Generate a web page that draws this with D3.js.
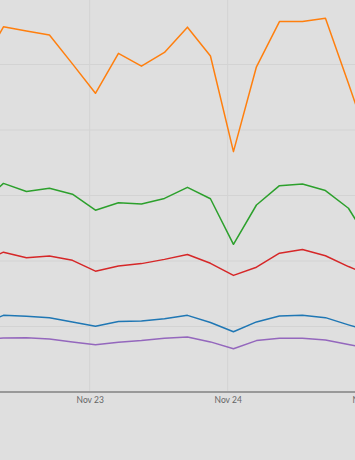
<!DOCTYPE html>
<html>
<head>
<meta charset="utf-8">
<script src="https://cdn.jsdelivr.net/npm/d3@7"></script>
<style>
html,body{margin:0;padding:0;background:#dfdfdf;overflow:hidden;}
svg{display:block;}
</style>
</head>
<body>
<svg id="chart" width="355" height="460"></svg>
<script>
// 4-hourly timestamps (Nov 22 05:00 .. Nov 25 01:00)
const times = [
  "2023-11-22T05:00","2023-11-22T09:00","2023-11-22T13:00","2023-11-22T17:00","2023-11-22T21:00",
  "2023-11-23T01:00","2023-11-23T05:00","2023-11-23T09:00","2023-11-23T13:00","2023-11-23T17:00","2023-11-23T21:00",
  "2023-11-24T01:00","2023-11-24T05:00","2023-11-24T09:00","2023-11-24T13:00","2023-11-24T17:00","2023-11-24T21:00",
  "2023-11-25T01:00"
];
const seriesOrange = [98.9,111.5,110.2,109.0,100.2,91.2,103.4,99.5,103.7,111.4,102.6,73.4,99.3,113.1,113.1,114.1,94.2,73.9];
const seriesGreen  = [57.4,63.7,61.2,62.2,60.4,55.5,57.8,57.4,59.1,62.5,59.0,45.1,57.1,63.0,63.5,61.5,56.1,44.9];
const seriesRed    = [39.4,42.7,41.0,41.5,40.2,36.9,38.5,39.2,40.5,42.0,39.3,35.6,38.1,42.4,43.5,41.6,38.3,35.4];
const seriesBlue   = [20.5,23.4,23.1,22.7,21.4,20.1,21.5,21.7,22.4,23.4,21.2,18.4,21.4,23.2,23.4,22.7,20.5,18.4];
const seriesPurple = [16.0,16.5,16.6,16.2,15.3,14.4,15.2,15.7,16.4,16.8,15.3,13.2,15.7,16.4,16.4,15.9,14.5,13.1];
const tickDates = ["2023-11-23","2023-11-24","2023-11-25"];
const tickLabels = ["Nov 23","Nov 24","Nov 25"];
const yTicks = [0,20,40,60,80,100,120];
const colors = ["#ff7f0e","#2ca02c","#d62728","#1f77b4","#9467bd"];

const parse = d3.timeParse("%Y-%m-%dT%H:%M");
const parseDay = d3.timeParse("%Y-%m-%d");
const dates = times.map(parse);
const allSeries = [seriesOrange, seriesGreen, seriesRed, seriesBlue, seriesPurple];

const svg = d3.select("#chart");
const W = 355, H = 460;

// x scale: visible window between Nov 23 and Nov 24 references
const x = d3.scaleTime()
  .domain([parseDay(tickDates[0]), parseDay(tickDates[1])])
  .range([89.7, 227.7]);
const y = d3.scaleLinear().domain([0, 120]).range([392, -1]);

svg.append("defs").append("clipPath").attr("id","clip")
  .append("rect").attr("x",0).attr("y",0).attr("width",W).attr("height",392);

// gridlines
const grid = svg.append("g");
grid.selectAll("line.h").data(yTicks.slice(1)).join("line")
  .attr("x1",0).attr("x2",W)
  .attr("y1",d=>y(d)).attr("y2",d=>y(d))
  .attr("stroke","#d3d3d3").attr("stroke-width",1);
grid.selectAll("line.v").data(tickDates.map(parseDay)).join("line")
  .attr("x1",d=>x(d)).attr("x2",d=>x(d))
  .attr("y1",0).attr("y2",392)
  .attr("stroke","#d3d3d3").attr("stroke-width",1);

// lines
const line = d3.line().x((d,i)=>x(dates[i])).y(d=>y(d));
svg.append("g").attr("clip-path","url(#clip)")
  .selectAll("path").data(allSeries).join("path")
  .attr("d", d=>line(d))
  .attr("fill","none")
  .attr("stroke",(d,i)=>colors[i])
  .attr("stroke-width",1.5)
  .attr("stroke-linejoin","round");

// x axis
const xAxis = d3.axisBottom(x)
  .tickValues(tickDates.map(parseDay))
  .tickFormat((d,i)=>tickLabels[i])
  .tickSize(0).tickPadding(5);
const ax = svg.append("g").attr("transform","translate(0,392)").call(xAxis);
ax.select(".domain").remove();
ax.append("line").attr("x1",0).attr("x2",W).attr("y1",0).attr("y2",0)
  .attr("stroke","#999").attr("stroke-width",2);
ax.selectAll("text").attr("fill","#666").attr("font-size","8.5px")
  .attr("font-family","Lato, 'Open Sans', sans-serif");
</script>
</body>
</html>
